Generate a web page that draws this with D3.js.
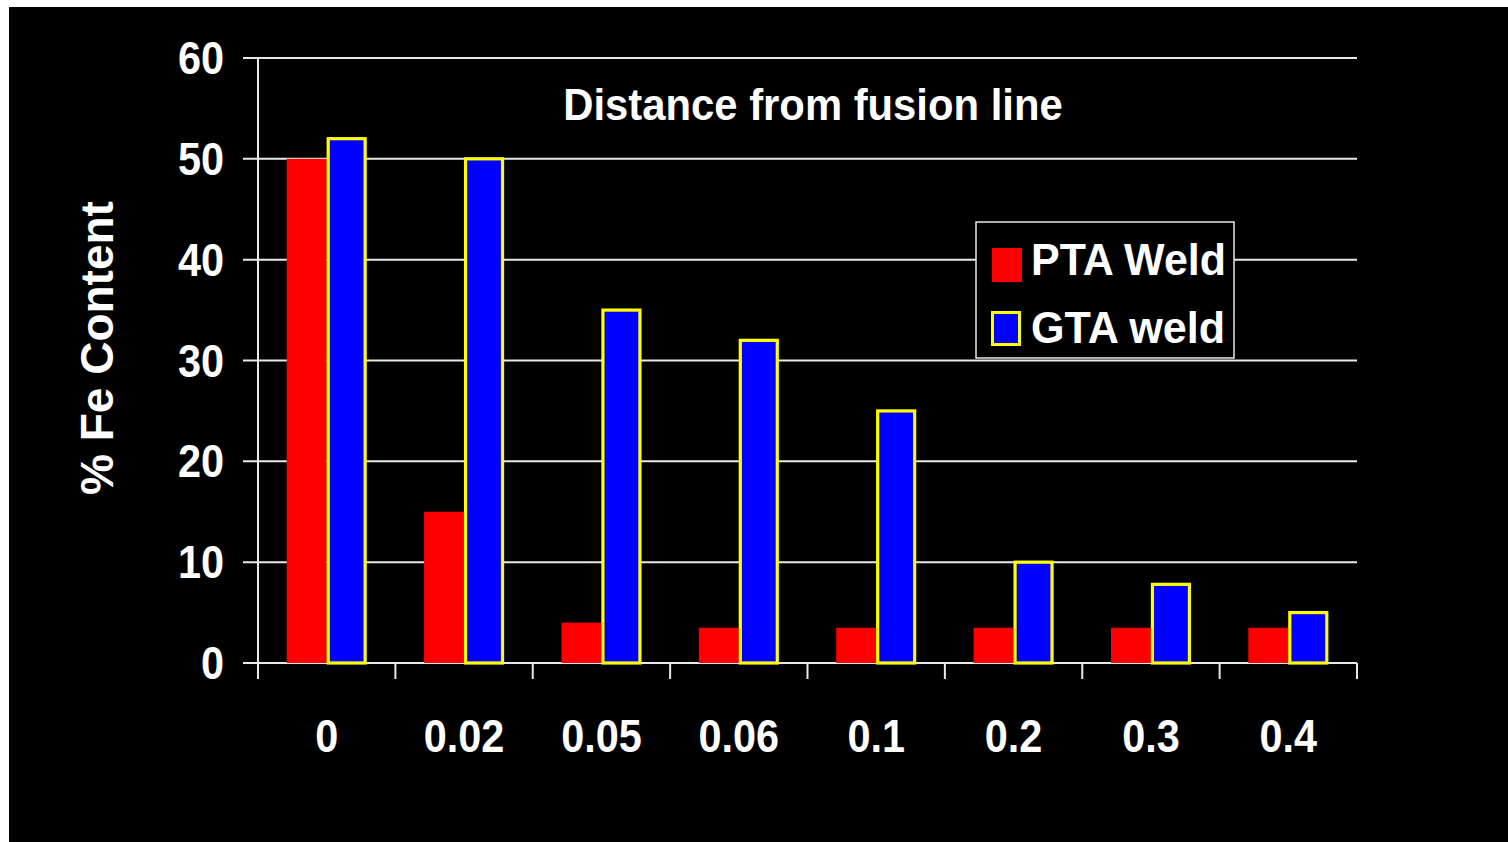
<!DOCTYPE html>
<html>
<head>
<meta charset="utf-8">
<script src="https://cdn.jsdelivr.net/npm/d3@7"></script>
<style>
  html, body { margin: 0; padding: 0; background: #ffffff; overflow: hidden; }
  svg { display: block; }
  text { font-family: "Liberation Sans", Arial, sans-serif; font-weight: bold; fill: #ffffff; }
</style>
</head>
<body>
<script>
const categories = ["0", "0.02", "0.05", "0.06", "0.1", "0.2", "0.3", "0.4"];
const seriesNames = ["PTA Weld", "GTA weld"];
const ptaValues = [50, 15, 4, 3.5, 3.5, 3.5, 3.5, 3.5];
const gtaValues = [52, 50, 35, 32, 25, 10, 7.8, 5];
const yTicks = [0, 10, 20, 30, 40, 50, 60];
const titleText = "Distance from fusion line";
const yLabel = "% Fe Content";

const W = 1508, H = 842;
const svg = d3.select("body").append("svg").attr("width", W).attr("height", H);

// background
svg.append("rect").attr("x", 0).attr("y", 0).attr("width", W).attr("height", H).attr("fill", "#ffffff");
svg.append("rect").attr("x", 9).attr("y", 7).attr("width", W - 9).attr("height", H - 7).attr("fill", "#000000");

const x0 = d3.scaleBand().domain(categories).range([258, 1357]).paddingInner(0.418).paddingOuter(0.209);
const x1 = d3.scaleBand().domain(seriesNames).range([0, x0.bandwidth()]);
const y = d3.scaleLinear().domain([0, 60]).range([663, 58]);

function condense(sel, factor) {
  sel.each(function () {
    const len = this.getComputedTextLength();
    d3.select(this).attr("textLength", len * factor).attr("lengthAdjust", "spacingAndGlyphs");
  });
}

// gridlines
svg.append("g").selectAll("line").data(yTicks).join("line")
  .attr("x1", 243).attr("x2", 1357)
  .attr("y1", d => y(d)).attr("y2", d => y(d))
  .attr("stroke", "#e8e8e8").attr("stroke-width", 2);

// y axis line
svg.append("line").attr("x1", 258).attr("x2", 258).attr("y1", y(60)).attr("y2", 679)
  .attr("stroke", "#e8e8e8").attr("stroke-width", 2);

// x category boundary tick marks
const bounds = categories.map((c, i) => x0.range()[0] + i * x0.step());
bounds.push(x0.range()[1]);
svg.append("g").selectAll("line").data(bounds).join("line")
  .attr("x1", d => d).attr("x2", d => d).attr("y1", y(0)).attr("y2", 679)
  .attr("stroke", "#e8e8e8").attr("stroke-width", 2);

// bars
const groups = svg.append("g").selectAll("g").data(categories).join("g")
  .attr("transform", d => `translate(${x0(d)},0)`);
groups.append("rect")
  .attr("x", x1("PTA Weld")).attr("width", x1.bandwidth())
  .attr("y", (d, i) => y(ptaValues[i])).attr("height", (d, i) => y(0) - y(ptaValues[i]))
  .attr("fill", "#ff0000");
groups.append("rect")
  .attr("x", x1("GTA weld") + 1.5).attr("width", x1.bandwidth() - 3)
  .attr("y", (d, i) => y(gtaValues[i])).attr("height", (d, i) => y(0) - y(gtaValues[i]))
  .attr("fill", "#0000ff").attr("stroke", "#ffff00").attr("stroke-width", 3.2);

// y tick labels
const yt = svg.append("g").selectAll("text").data(yTicks).join("text")
  .attr("x", 224).attr("y", d => y(d) + 16)
  .attr("text-anchor", "end").attr("font-size", 46)
  .text(d => d);
condense(yt, 0.9);

// x tick labels
const xt = svg.append("g").selectAll("text").data(categories).join("text")
  .attr("x", d => x0(d) + x0.bandwidth() / 2).attr("y", 752)
  .attr("text-anchor", "middle").attr("font-size", 46)
  .text(d => d);
condense(xt, 0.9);

// title
const tt = svg.append("text").attr("x", 813).attr("y", 120).attr("text-anchor", "middle")
  .attr("font-size", 44).text(titleText);
condense(tt, 0.95);

// y label
const yl = svg.append("text").attr("transform", "translate(113,348) rotate(-90)")
  .attr("text-anchor", "middle").attr("font-size", 46).text(yLabel);
condense(yl, 1.0);

// legend
const lg = svg.append("g");
lg.append("rect").attr("x", 976).attr("y", 222).attr("width", 258).attr("height", 136)
  .attr("fill", "#000000").attr("stroke", "#e8e8e8").attr("stroke-width", 1.5);
lg.append("rect").attr("x", 992).attr("y", 248).attr("width", 30).attr("height", 34).attr("fill", "#ff0000");
lg.append("rect").attr("x", 992.5).attr("y", 312.5).attr("width", 27).attr("height", 32)
  .attr("fill", "#0000ff").attr("stroke", "#ffff00").attr("stroke-width", 3);
const lt = lg.selectAll("text.leg").data(seriesNames).join("text").attr("class", "leg")
  .attr("x", 1031).attr("y", (d, i) => i === 0 ? 275 : 343)
  .attr("font-size", 44).text(d => d);
lt.each(function (d, i) {
  d3.select(this).attr("textLength", i === 0 ? 195 : 194).attr("lengthAdjust", "spacingAndGlyphs");
});
</script>
</body>
</html>
